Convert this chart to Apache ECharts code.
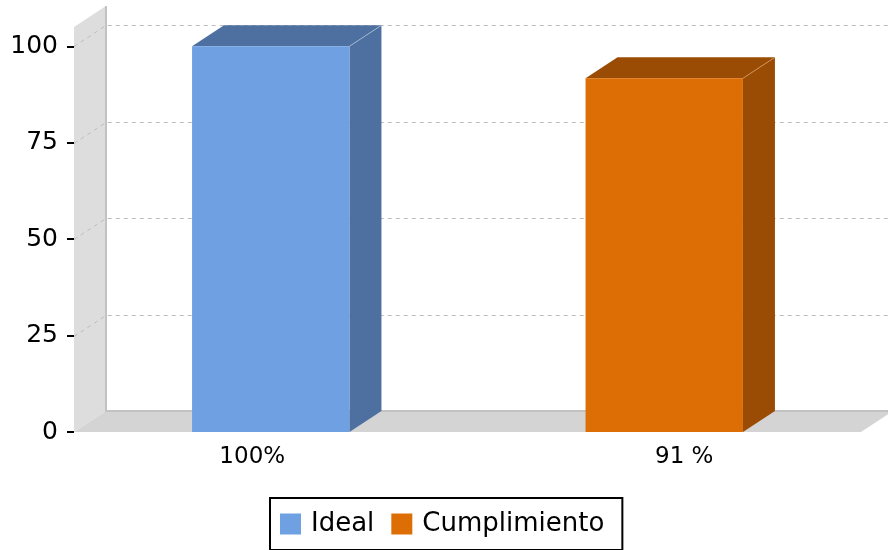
<!DOCTYPE html>
<html><head><meta charset="utf-8">
<script src="https://cdn.jsdelivr.net/npm/echarts@6/dist/echarts.min.js"></script>
<style>html,body{margin:0;padding:0;background:#fff}#c{width:888px;height:550px}</style>
</head><body><div id="c"></div>
<script>
const categories = ['100%', '91 %'];
const seriesNames = ['Ideal', 'Cumplimiento'];
const idealValues = [100, null];
const cumplimientoValues = [null, 91.7];
const yTicks = [0, 25, 50, 75, 100];

const DX = 32, DY = 21;
const FONT = 'DejaVu Sans';
const palette = {
  Ideal: { front: '#6FA1E2', dark: '#4E70A0', edge: 'rgba(200,215,240,0.55)' },
  Cumplimiento: { front: '#DD6D05', dark: '#9B4C04', edge: 'rgba(230,170,110,0.6)' }
};

function frameRender(params, api) {
  const cs = params.coordSys;
  const x0 = cs.x, x1 = cs.x + cs.width, yTop = cs.y;
  const yZero = api.coord([0, 0])[1];
  const ch = [];
  ch.push({ type: 'polygon', shape: { points: [[x0, yTop], [x0 + DX, yTop - DY], [x0 + DX, yZero - DY], [x0, yZero]] }, style: { fill: '#DDDDDD' } });
  ch.push({ type: 'polygon', shape: { points: [[x0, yZero], [x0 + DX, yZero - DY], [x1 + DX, yZero - DY], [x1, yZero]] }, style: { fill: '#D4D4D4' } });
  ch.push({ type: 'polyline', shape: { points: [[x0 + DX, yTop - DY], [x0 + DX, yZero - DY], [x1 + DX, yZero - DY]] }, style: { stroke: '#C2C2C2', lineWidth: 2, fill: null } });
  yTicks.forEach(function (v) {
    if (v === 0) return;
    const y = Math.round(api.coord([0, v])[1]) + 0.5;
    ch.push({ type: 'polyline', shape: { points: [[x0, y], [x0 + DX, y - DY], [x1 + DX, y - DY]] }, style: { stroke: '#BDBDBD', lineWidth: 1, lineDash: [4, 4], fill: null } });
  });
  return { type: 'group', children: ch };
}

function barRender(name) {
  const col = palette[name];
  return function (params, api) {
    const i = api.value(0), v = api.value(1);
    const c = api.coord([i, v]);
    const z = api.coord([i, 0]);
    const bw = api.size([1, 0])[0] * 0.4;
    const L = c[0] - bw / 2, R = c[0] + bw / 2, T = c[1], B = z[1];
    return {
      type: 'group',
      children: [
        { type: 'polygon', shape: { points: [[L, T], [L + DX, T - DY], [R + DX, T - DY], [R, T]] }, style: { fill: col.dark } },
        { type: 'polygon', shape: { points: [[R, T], [R + DX, T - DY], [R + DX, B - DY], [R, B]] }, style: { fill: col.dark } },
        { type: 'line', shape: { x1: R, y1: T, x2: R + DX, y2: T - DY }, style: { stroke: col.edge, lineWidth: 1 } },
        { type: 'rect', shape: { x: L, y: T, width: bw, height: B - T }, style: { fill: col.front } }
      ]
    };
  };
}

function toData(vals) {
  return vals.map(function (v, i) { return v == null ? null : [i, v]; }).filter(Boolean);
}

const chart = echarts.init(document.getElementById('c'), null, { renderer: 'canvas' });
chart.setOption({
  animation: false,
  backgroundColor: '#ffffff',
  grid: { left: 74, right: 27, top: 27, bottom: 118 },
  xAxis: {
    type: 'category', data: categories, boundaryGap: true,
    axisLine: { show: false }, axisTick: { show: false }, splitLine: { show: false },
    axisLabel: {
      margin: 14, color: '#000', fontFamily: FONT, fontSize: 23,
      formatter: function (val, idx) { return idx === 0 ? '{l|' + val + '}' : '{r|' + val + '}'; },
      rich: {
        l: { fontFamily: FONT, fontSize: 23, color: '#000', padding: [0, 37, 0, 0] },
        r: { fontFamily: FONT, fontSize: 23, color: '#000', padding: [0, 0, 0, 40] }
      }
    }
  },
  yAxis: {
    type: 'value', min: 0, max: 105, interval: 25,
    axisLine: { show: false },
    axisTick: { show: true, length: 7, lineStyle: { color: '#000', width: 2 }, customValues: yTicks },
    axisLabel: { margin: 16, color: '#000', fontFamily: FONT, fontSize: 25, customValues: yTicks },
    splitLine: { show: false }
  },
  legend: {
    data: seriesNames.map(function (n) { return { name: n, icon: 'rect' }; }),
    left: 270, top: 498,
    orient: 'horizontal',
    itemWidth: 21, itemHeight: 21, itemGap: 17,
    padding: [13, 18, 13, 10],
    borderColor: '#000', borderWidth: 2,
    textStyle: { color: '#000', fontFamily: FONT, fontSize: 26, padding: [0, 0, 0, 5] }
  },
  series: [
    { type: 'custom', name: '_frame', renderItem: frameRender, data: [[0, 0]], z: 1, silent: true },
    { type: 'custom', name: seriesNames[0], renderItem: barRender('Ideal'), data: toData(idealValues), itemStyle: { color: palette.Ideal.front }, z: 2 },
    { type: 'custom', name: seriesNames[1], renderItem: barRender('Cumplimiento'), data: toData(cumplimientoValues), itemStyle: { color: palette.Cumplimiento.front }, z: 2 }
  ]
});
</script>
</body></html>
